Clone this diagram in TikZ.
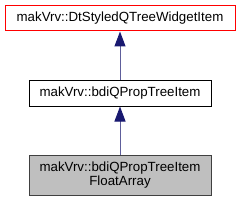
\documentclass[tikz,border=0pt]{standalone}
\usepackage{fontspec}
\setmainfont{Liberation Sans}
\usetikzlibrary{arrows.meta}
\definecolor{edgeblue}{HTML}{191970}
\definecolor{boxgray}{HTML}{BFBFBF}
\definecolor{boxdark}{HTML}{404040}
\begin{document}
\begin{tikzpicture}[x=1pt,y=-1pt,
  cls/.style={draw, line width=1pt, minimum width=182pt, inner sep=0pt, font=\fontsize{13.3}{13.5}\selectfont, align=center},
  inh/.style={draw=edgeblue!70, line width=1pt, -{Triangle[length=15pt,width=11pt,color=edgeblue]}}]
\useasboundingbox (0,0) rectangle (240,203);
\node[cls, draw=red, minimum width=230pt, minimum height=25pt] (top) at (120,18.5) {makVrv::DtStyledQTreeWidgetItem};
\node[cls, draw=black, minimum height=26pt] (mid) at (120,93) {makVrv::bdiQPropTreeItem};
\node[cls, draw=boxdark, fill=boxgray, minimum height=40pt] (bot) at (120,175) {makVrv::bdiQPropTreeItem\\FloatArray};
\draw[inh] (mid.north) -- (top.south);
\draw[inh] (bot.north) -- (mid.south);
\end{tikzpicture}
\end{document}
